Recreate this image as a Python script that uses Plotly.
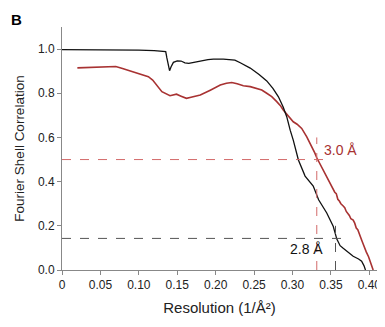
import plotly.graph_objects as go

# Black FSC curve
black_x = [0.000, 0.020, 0.050, 0.080, 0.100, 0.120, 0.130, 0.135, 0.1365, 0.1385, 0.1400, 0.1420,
           0.1450, 0.150, 0.155, 0.160, 0.165, 0.170, 0.175, 0.180, 0.190, 0.197, 0.210, 0.219,
           0.225, 0.232, 0.245, 0.2565, 0.2665, 0.2745, 0.2817, 0.288, 0.2925, 0.297, 0.301,
           0.3077, 0.3164, 0.327, 0.334, 0.3446, 0.353, 0.3577, 0.362, 0.366, 0.372, 0.379,
           0.386, 0.390, 0.393, 0.395]
black_y = [0.998, 0.998, 0.997, 0.997, 0.995, 0.993, 0.991, 0.989, 0.960, 0.915, 0.902, 0.920,
           0.940, 0.947, 0.946, 0.938, 0.935, 0.939, 0.944, 0.946, 0.952, 0.955, 0.955, 0.954,
           0.950, 0.938, 0.914, 0.885, 0.856, 0.822, 0.784, 0.737, 0.694, 0.633, 0.588,
           0.498, 0.425, 0.380, 0.318, 0.258, 0.198, 0.140, 0.110, 0.098, 0.080, 0.062,
           0.050, 0.040, 0.020, 0.000]

# Red FSC curve
red_x = [0.020, 0.040, 0.0625, 0.0700, 0.0777, 0.087, 0.097, 0.105, 0.1124, 0.118, 0.123, 0.130,
         0.1406, 0.145, 0.149, 0.155, 0.162, 0.168, 0.175, 0.180, 0.193, 0.200, 0.206, 0.214,
         0.221, 0.228, 0.236, 0.245, 0.2535, 0.260, 0.2665, 0.273, 0.2795, 0.284, 0.288,
         0.2935, 0.297, 0.301, 0.306, 0.312, 0.3186, 0.323, 0.329, 0.3316, 0.336, 0.340,
         0.342, 0.345, 0.348, 0.351, 0.353, 0.355, 0.357, 0.359, 0.361, 0.363, 0.366,
         0.368, 0.370, 0.372, 0.374, 0.376, 0.379, 0.381, 0.383, 0.385, 0.387, 0.390,
         0.392, 0.394, 0.396, 0.399, 0.401, 0.403, 0.405]
red_y = [0.915, 0.917, 0.922, 0.921, 0.913, 0.903, 0.890, 0.884, 0.875, 0.860, 0.837, 0.807,
         0.789, 0.793, 0.796, 0.787, 0.777, 0.782, 0.789, 0.792, 0.814, 0.826, 0.837, 0.845,
         0.849, 0.843, 0.834, 0.830, 0.822, 0.815, 0.800, 0.785, 0.762, 0.745, 0.724,
         0.700, 0.684, 0.671, 0.660, 0.641, 0.603, 0.575, 0.530, 0.508, 0.478, 0.452,
         0.435, 0.418, 0.395, 0.380, 0.366, 0.352, 0.346, 0.320, 0.312, 0.300, 0.290,
         0.282, 0.265, 0.258, 0.247, 0.232, 0.226, 0.212, 0.190, 0.182, 0.160, 0.136,
         0.118, 0.096, 0.082, 0.060, 0.040, 0.018, 0.000]

x_ticks = [0, 0.05, 0.10, 0.15, 0.20, 0.25, 0.30, 0.35, 0.40]
x_tick_labels = ["0", "0.05", "0.10", "0.15", "0.20", "0.25", "0.30", "0.35", "0.40"]
y_ticks = [0.0, 0.2, 0.4, 0.6, 0.8, 1.0]
y_tick_labels = ["0.0", "0.2", "0.4", "0.6", "0.8", "1.0"]

red_thresh = 0.5
red_res = 0.3316
black_thresh = 0.143
black_res = 0.356

RED = "#a83232"
RED_DASH = "#d36a6a"
BLK_DASH = "#555555"

fig = go.Figure()
fig.add_trace(go.Scatter(x=red_x, y=red_y, mode="lines",
                         line=dict(color=RED, width=1.6), hoverinfo="skip"))
fig.add_trace(go.Scatter(x=black_x, y=black_y, mode="lines",
                         line=dict(color="#111111", width=1.3), hoverinfo="skip"))

# threshold dashed lines
fig.add_trace(go.Scatter(x=[0, 0.349], y=[red_thresh, red_thresh], mode="lines",
                         line=dict(color=RED_DASH, width=1, dash="dash")))
fig.add_trace(go.Scatter(x=[red_res, red_res], y=[0, 0.6], mode="lines",
                         line=dict(color=RED_DASH, width=1, dash="dash")))
fig.add_trace(go.Scatter(x=[0, 0.369], y=[black_thresh, black_thresh], mode="lines",
                         line=dict(color=BLK_DASH, width=1, dash="dash")))
fig.add_trace(go.Scatter(x=[black_res, black_res], y=[0, 0.2], mode="lines",
                         line=dict(color=BLK_DASH, width=1, dash="dash")))

fig.add_annotation(x=0.3385, y=0.543, text="3.0 Å", showarrow=False, xanchor="left",
                   yanchor="middle", font=dict(color=RED, size=14))
fig.add_annotation(x=0.342, y=0.095, text="2.8 Å", showarrow=False, xanchor="right",
                   yanchor="middle", font=dict(color="#111111", size=14))
fig.add_annotation(xref="paper", yref="paper", x=-0.143, y=1.029, text="<b>B</b>",
                   showarrow=False, xanchor="center", yanchor="middle",
                   font=dict(size=15, color="#000000"))

# the page body adds an 8px margin, so the figure is sized to fit the window without scrolling
fig.update_layout(
    width=377, height=311,
    margin=dict(l=54, r=8, t=19, b=49),
    paper_bgcolor="white", plot_bgcolor="white",
    showlegend=False,
    font=dict(family="Liberation Sans, Arial, sans-serif", color="#222222", size=12),
)
fig.update_xaxes(range=[0, 0.41], tickvals=x_ticks, ticktext=x_tick_labels,
                 showgrid=False, zeroline=False, showline=True, linecolor="#888888",
                 linewidth=1, ticks="outside", ticklen=4, tickcolor="#888888",
                 tickfont=dict(size=12), automargin=False, ticklabeloverflow="allow",
                 title=dict(text="Resolution (1/Å²)", font=dict(size=15), standoff=11))
fig.update_yaxes(range=[0, 1.1], tickvals=y_ticks, ticktext=y_tick_labels,
                 showgrid=False, zeroline=False, showline=True, linecolor="#888888",
                 linewidth=1, ticks="outside", ticklen=4, tickcolor="#888888",
                 tickfont=dict(size=12), automargin=False,
                 title=dict(text="Fourier Shell Correlation", font=dict(size=13.5), standoff=10))

fig.write_html("out.html")
